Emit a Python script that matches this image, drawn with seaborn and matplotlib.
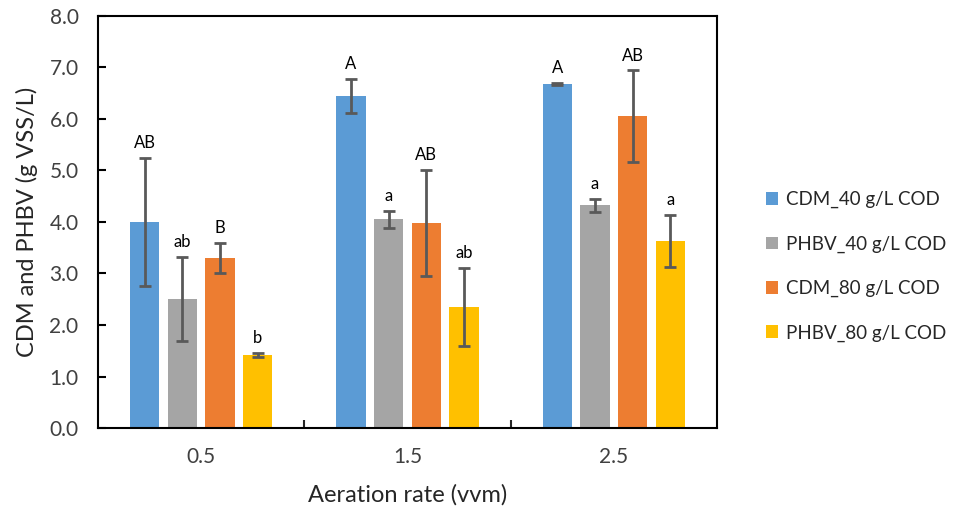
import numpy as np
import pandas as pd
import matplotlib
matplotlib.use("Agg")
import matplotlib.pyplot as plt
import seaborn as sns
from matplotlib.ticker import FixedLocator, FormatStrFormatter

aeration = ["0.5", "1.5", "2.5"]
series = ["CDM_40 g/L COD", "PHBV_40 g/L COD", "CDM_80 g/L COD", "PHBV_80 g/L COD"]
cdm40 = [4.00, 6.45, 6.67]
phbv40 = [2.50, 4.05, 4.32]
cdm80 = [3.30, 3.98, 6.05]
phbv80 = [1.42, 2.35, 3.63]
cdm40_err = [1.25, 0.33, 0.02]
phbv40_err = [0.82, 0.17, 0.12]
cdm80_err = [0.29, 1.02, 0.89]
phbv80_err = [0.045, 0.76, 0.50]
cdm40_lbl = ["AB", "A", "A"]
phbv40_lbl = ["ab", "a", "a"]
cdm80_lbl = ["B", "AB", "AB"]
phbv80_lbl = ["b", "ab", "a"]
colors = ["#5B9BD5", "#A5A5A5", "#ED7D31", "#FFC000"]

values = [cdm40, phbv40, cdm80, phbv80]
errors = [cdm40_err, phbv40_err, cdm80_err, phbv80_err]
labels = [cdm40_lbl, phbv40_lbl, cdm80_lbl, phbv80_lbl]

rows = []
for s, vals in zip(series, values):
    for a, v in zip(aeration, vals):
        rows.append({"aeration": a, "series": s, "value": v})
df = pd.DataFrame(rows)

sns.set_style("white")
plt.rcParams["font.family"] = ["Lato", "DejaVu Sans"]

fig = plt.figure(figsize=(9.56, 5.12), dpi=100)
ax = fig.add_axes([0.1025, 0.164, 0.6475, 0.805])

sns.barplot(data=df, x="aeration", y="value", hue="series", order=aeration,
            hue_order=series, palette=colors, width=0.73, gap=0.22,
            errorbar=None, ax=ax, edgecolor="none", saturation=1)

for cont, errs, lbls in zip(ax.containers, errors, labels):
    for bar, e, t in zip(cont.patches, errs, lbls):
        xc = bar.get_x() + bar.get_width() / 2
        h = bar.get_height()
        ax.errorbar(xc, h, yerr=e, color="#595959", elinewidth=2,
                    capsize=4, capthick=2, fmt="none", zorder=5)
        ax.annotate(t, (xc, h + e), xytext=(0, 5), textcoords="offset points",
                    ha="center", va="bottom", fontsize=12, color="black")

ax.set_xlim(-0.5, 2.5)
ax.set_ylim(0, 8)
ax.yaxis.set_major_locator(FixedLocator(np.arange(0, 8.01, 1.0)))
ax.yaxis.set_major_formatter(FormatStrFormatter("%.1f"))
ax.xaxis.set_minor_locator(FixedLocator([0.5, 1.5]))
ax.tick_params(axis="y", direction="in", length=6, width=1.5, labelsize=15,
               left=True, pad=14, colors="black")
ax.tick_params(axis="y", labelcolor="#404040")
ax.tick_params(axis="x", which="major", length=0, labelsize=15, pad=14,
               labelcolor="#404040")
ax.tick_params(axis="x", which="minor", direction="in", length=6, width=1.5,
               bottom=True)
for sp in ax.spines.values():
    sp.set_visible(True)
    sp.set_color("black")
    sp.set_linewidth(1.5)

ax.set_xlabel("Aeration rate (vvm)", fontsize=17, labelpad=12)
ax.set_ylabel("CDM and PHBV (g VSS/L)", fontsize=17, labelpad=8)

handles, lbls = ax.get_legend_handles_labels()
ax.legend(handles, lbls, loc="center left", bbox_to_anchor=(0.793, 0.48),
          bbox_transform=fig.transFigure, frameon=False, fontsize=13.5,
          handlelength=0.65, handleheight=0.65, handletextpad=0.45,
          labelspacing=1.45, borderaxespad=0)

fig.savefig("out.png", dpi=100)
